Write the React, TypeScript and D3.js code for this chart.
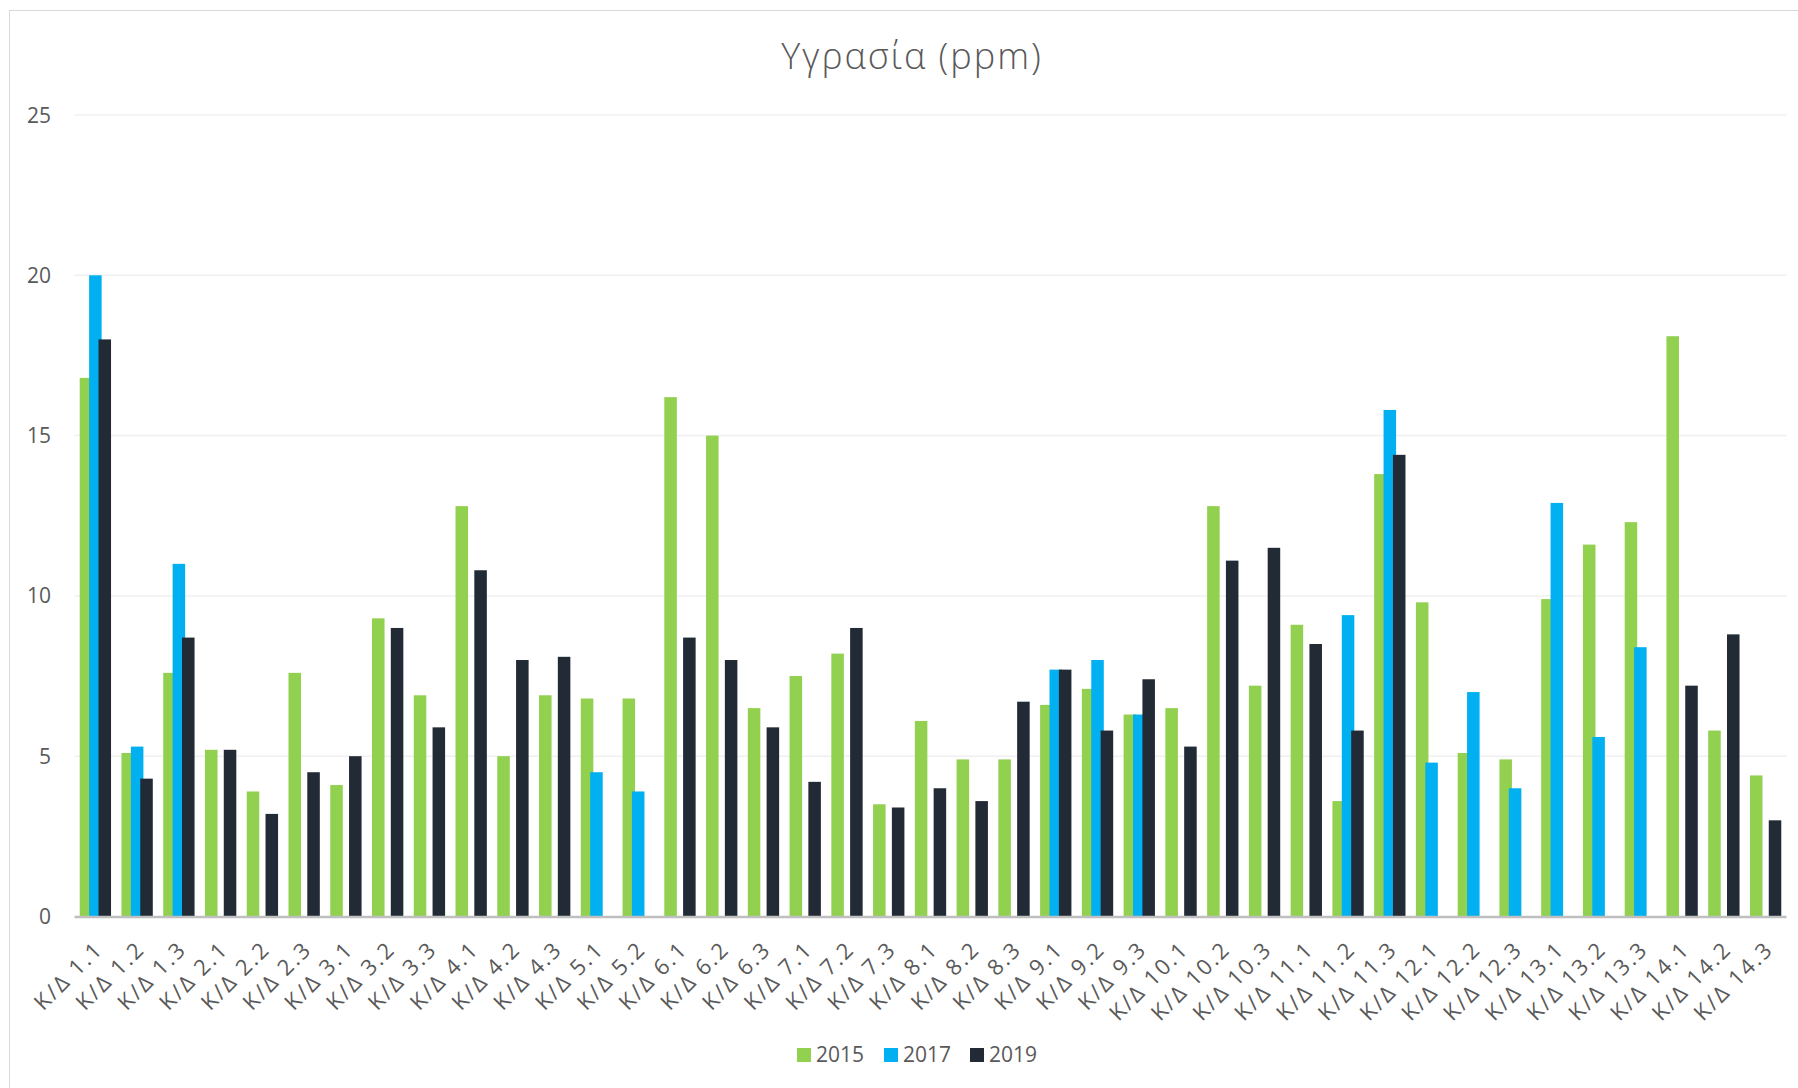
import * as d3 from "d3";
import { useEffect, useRef } from "react";

// ---- 資料 ----
const categories = [
  "K/Δ 1.1", "K/Δ 1.2", "K/Δ 1.3", "K/Δ 2.1", "K/Δ 2.2", "K/Δ 2.3",
  "K/Δ 3.1", "K/Δ 3.2", "K/Δ 3.3", "K/Δ 4.1", "K/Δ 4.2", "K/Δ 4.3",
  "K/Δ 5.1", "K/Δ 5.2", "K/Δ 6.1", "K/Δ 6.2", "K/Δ 6.3", "K/Δ 7.1",
  "K/Δ 7.2", "K/Δ 7.3", "K/Δ 8.1", "K/Δ 8.2", "K/Δ 8.3", "K/Δ 9.1",
  "K/Δ 9.2", "K/Δ 9.3", "K/Δ 10.1", "K/Δ 10.2", "K/Δ 10.3", "K/Δ 11.1",
  "K/Δ 11.2", "K/Δ 11.3", "K/Δ 12.1", "K/Δ 12.2", "K/Δ 12.3", "K/Δ 13.1",
  "K/Δ 13.2", "K/Δ 13.3", "K/Δ 14.1", "K/Δ 14.2", "K/Δ 14.3",
];

const seriesNames = ["2015", "2017", "2019"];
const seriesColors = ["#92D050", "#00B0F0", "#222A35"];

const values2015 = [
  16.8, 5.1, 7.6, 5.2, 3.9, 7.6, 4.1, 9.3, 6.9, 12.8, 5.0, 6.9, 6.8, 6.8,
  16.2, 15.0, 6.5, 7.5, 8.2, 3.5, 6.1, 4.9, 4.9, 6.6, 7.1, 6.3, 6.5, 12.8,
  7.2, 9.1, 3.6, 13.8, 9.8, 5.1, 4.9, 9.9, 11.6, 12.3, 18.1, 5.8, 4.4,
];
const values2017 = [
  20.0, 5.3, 11.0, null, null, null, null, null, null, null, null, null, 4.5, 3.9,
  null, null, null, null, null, null, null, null, null, 7.7, 8.0, 6.3, null, null,
  null, null, 9.4, 15.8, 4.8, 7.0, 4.0, 12.9, 5.6, 8.4, null, null, null,
];
const values2019 = [
  18.0, 4.3, 8.7, 5.2, 3.2, 4.5, 5.0, 9.0, 5.9, 10.8, 8.0, 8.1, null, null,
  8.7, 8.0, 5.9, 4.2, 9.0, 3.4, 4.0, 3.6, 6.7, 7.7, 5.8, 7.4, 5.3, 11.1,
  11.5, 8.5, 5.8, 14.4, null, null, null, null, null, null, 7.2, 8.8, 3.0,
];

const yTicks = [0, 5, 10, 15, 20, 25];

export default function App() {
  const ref = useRef<SVGSVGElement | null>(null);

  useEffect(() => {
    const width = 1798;
    const height = 1088;
    const left = 74.5;
    const right = 1786.5;
    const top = 115;
    const bottom = 916.5;
    const font = "'Open Sans', sans-serif";
    const textColor = "#595959";

    const svg = d3.select(ref.current);
    svg.selectAll("*").remove();
    svg.attr("width", width).attr("height", height);

    // ---- 外框 ----
    svg.append("rect")
      .attr("x", 9.5).attr("y", 10.5)
      .attr("width", 1800).attr("height", 1100)
      .attr("fill", "#fff")
      .attr("stroke", "#d9d9d9");

    // ---- 尺度 ----
    const x = d3.scaleBand<string>()
      .domain(categories)
      .range([left, right])
      .paddingInner(0.25)
      .paddingOuter(0.125);

    const overlap = 0.25; // 系列重疊
    const barW = x.bandwidth() / (1 + 2 * (1 - overlap));
    const step = barW * (1 - overlap);

    const y = d3.scaleLinear().domain([0, 25]).range([bottom, top]);

    // ---- 網格線 ----
    svg.append("g")
      .selectAll("line")
      .data(yTicks.filter((d) => d > 0))
      .join("line")
      .attr("x1", left).attr("x2", right)
      .attr("y1", (d) => y(d)).attr("y2", (d) => y(d))
      .attr("stroke", "#f0f0f0")
      .attr("stroke-width", 1.5);

    // ---- 左側刻度 ----
    svg.append("g")
      .selectAll("text")
      .data(yTicks)
      .join("text")
      .attr("x", 51)
      .attr("y", (d) => y(d))
      .attr("dy", "0.36em")
      .attr("text-anchor", "end")
      .attr("font-family", font)
      .attr("font-size", 21)
      .attr("fill", textColor)
      .text((d) => d);

    // ---- 長條 ----
    const allSeries = [values2015, values2017, values2019];
    allSeries.forEach((vals, si) => {
      svg.append("g")
        .selectAll("rect")
        .data(vals.map((v, i) => ({ v, c: categories[i] })).filter((d) => d.v != null))
        .join("rect")
        .attr("x", (d) => (x(d.c) as number) + si * step)
        .attr("y", (d) => y(d.v as number))
        .attr("width", barW)
        .attr("height", (d) => bottom - y(d.v as number))
        .attr("fill", seriesColors[si]);
    });

    // ---- X 軸 ----
    svg.append("line")
      .attr("x1", left).attr("x2", right)
      .attr("y1", bottom + 0.5).attr("y2", bottom + 0.5)
      .attr("stroke", "#bfbfbf")
      .attr("stroke-width", 2.5);

    svg.append("g")
      .selectAll("text")
      .data(categories)
      .join("text")
      .attr("transform", (d) => {
        const cx = (x(d) as number) + x.bandwidth() / 2 + 9;
        return `translate(${cx},${bottom + 34}) rotate(-45)`;
      })
      .attr("text-anchor", "end")
      .attr("font-family", font)
      .attr("font-size", 22)
      .attr("letter-spacing", 2.2)
      .attr("fill", textColor)
      .text((d) => d);

    // ---- 標題 ----
    svg.append("text")
      .attr("x", 912)
      .attr("y", 69)
      .attr("text-anchor", "middle")
      .attr("font-family", font)
      .attr("font-weight", 300)
      .attr("font-size", 36)
      .attr("letter-spacing", 2)
      .attr("fill", textColor)
      .text("Υγρασία (ppm)");

    // ---- 圖例 ----
    const legendX = [797, 884, 970];
    const lg = svg.append("g");
    seriesNames.forEach((name, i) => {
      lg.append("rect")
        .attr("x", legendX[i]).attr("y", 1048)
        .attr("width", 14).attr("height", 14)
        .attr("fill", seriesColors[i]);
      lg.append("text")
        .attr("x", legendX[i] + 19)
        .attr("y", 1062)
        .attr("font-family", font)
        .attr("font-size", 21)
        .attr("fill", textColor)
        .text(name);
    });
  }, []);

  return (
    <svg
      ref={ref}
      style={{ position: "absolute", left: 0, top: 0, display: "block" }}
    />
  );
}
